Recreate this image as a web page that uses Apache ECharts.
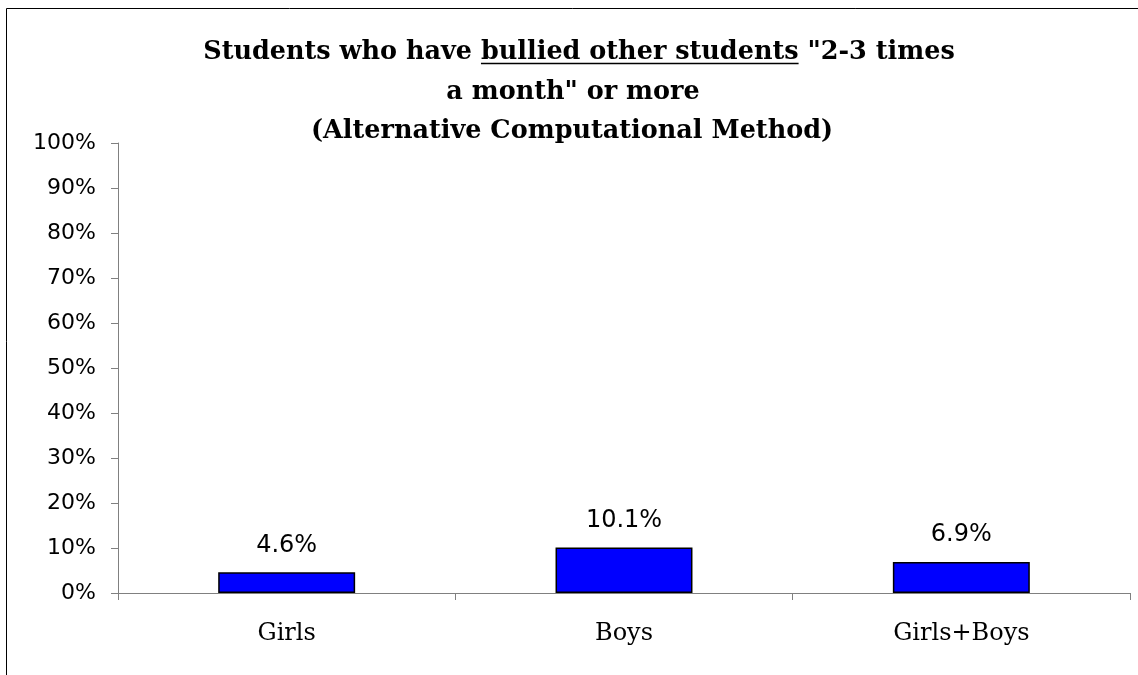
<!DOCTYPE html>
<html>
<head>
<meta charset="utf-8">
<script src="https://cdn.jsdelivr.net/npm/echarts@6/dist/echarts.min.js"></script>
<style>
html,body{margin:0;padding:0;background:#fff;}
#main{width:1138px;height:675px;}
</style>
</head>
<body>
<div id="main"></div>
<script>
var categories = ['Girls', 'Boys', 'Girls+Boys'];
var values = [4.6, 10.1, 6.9];
var yTicks = [0, 10, 20, 30, 40, 50, 60, 70, 80, 90, 100];
var titleLine1 = ['Students who have ', 'bullied other students', ' "2-3 times'];
var titleLine2 = 'a month" or more';
var titleLine3 = '(Alternative Computational Method)';

var titleFontSize = 25.5;
var titleFont = 'bold ' + titleFontSize + 'px "DejaVu Serif"';
var cx1 = 579;
var ctx = document.createElement('canvas').getContext('2d');
ctx.font = titleFont;
var w0 = ctx.measureText(titleLine1[0]).width;
var w1 = ctx.measureText(titleLine1[1]).width;
var wAll = ctx.measureText(titleLine1.join('')).width;
var startX = cx1 - wAll / 2;

var titleStyle = {fontFamily: '"DejaVu Serif"', fontWeight: 'bold', fontSize: titleFontSize, fill: '#000', align: 'center', verticalAlign: 'middle'};
function tx(text, x, y) {
  return {type: 'text', x: x, y: y, style: Object.assign({text: text}, titleStyle), silent: true};
}

var chart = echarts.init(document.getElementById('main'));
chart.setOption({
  animation: false,
  backgroundColor: '#fff',
  grid: {left: 118, right: 8, top: 143, bottom: 82, containLabel: false},
  xAxis: {
    type: 'category',
    data: categories,
    axisLine: {lineStyle: {color: '#808080', width: 1}},
    axisTick: {show: true, length: 7, lineStyle: {color: '#808080'}},
    axisLabel: {fontFamily: '"DejaVu Serif"', fontSize: 24, color: '#000', margin: 29}
  },
  yAxis: {
    type: 'value',
    min: yTicks[0],
    max: yTicks[yTicks.length - 1],
    interval: 10,
    axisLine: {show: true, lineStyle: {color: '#808080', width: 1}},
    axisTick: {show: true, length: 7, lineStyle: {color: '#808080'}},
    splitLine: {show: false},
    axisLabel: {fontFamily: '"DejaVu Sans"', fontSize: 22, color: '#000', margin: 22, formatter: '{value}%'}
  },
  series: [{
    type: 'bar',
    data: values,
    barWidth: '40.6%',
    itemStyle: {color: '#0000ff', borderColor: '#000', borderWidth: 1.5},
    label: {show: true, position: 'top', distance: 15, fontFamily: '"DejaVu Sans"', fontSize: 24, color: '#000',
      formatter: function (p) { return p.value.toFixed(1) + '%'; }}
  }],
  graphic: [
    {type: 'line', shape: {x1: 6.5, y1: 8.5, x2: 1138, y2: 8.5}, style: {stroke: '#000', lineWidth: 1}, silent: true},
    {type: 'line', shape: {x1: 6.5, y1: 8.5, x2: 6.5, y2: 675}, style: {stroke: '#000', lineWidth: 1}, silent: true},
    tx(titleLine1.join(''), cx1, 52),
    tx(titleLine2, 573, 92),
    tx(titleLine3, 572, 131),
    {type: 'line', shape: {x1: startX + w0, y1: 63.5, x2: startX + w0 + w1, y2: 63.5}, style: {stroke: '#000', lineWidth: 1.5}, silent: true}
  ]
});
</script>
</body>
</html>
